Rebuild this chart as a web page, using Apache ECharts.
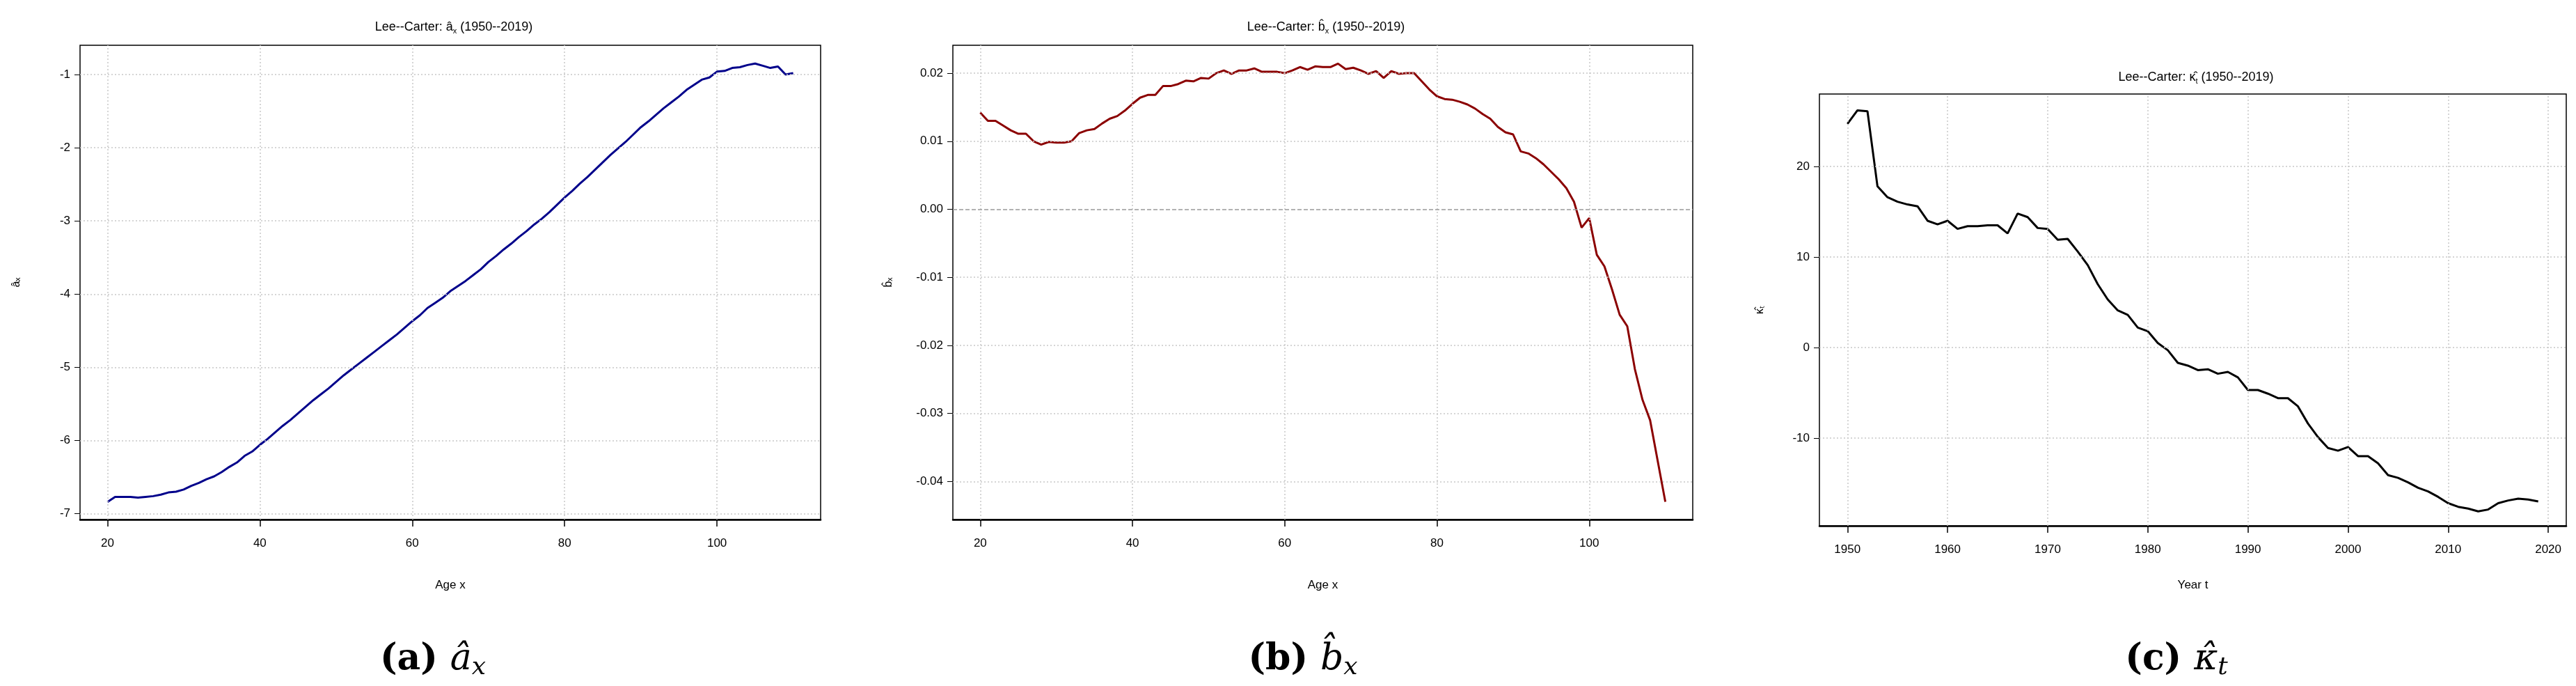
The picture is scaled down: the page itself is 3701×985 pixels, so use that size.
<!DOCTYPE html>
<html>
<head>
<meta charset="utf-8">
<script src="https://cdn.jsdelivr.net/npm/echarts@6/dist/echarts.min.js"></script>
<style>html,body{margin:0;background:#fff}#c{width:3701px;height:985px}</style>
</head>
<body>
<div id="c"></div>
<script>
// Lee-Carter estimates
const ages = [];
for (let a = 20; a <= 110; a++) ages.push(a);
const years = [];
for (let y = 1950; y <= 2019; y++) years.push(y);

const ax = [-6.84,-6.77,-6.77,-6.77,-6.78,-6.77,-6.76,-6.74,-6.71,-6.70,
  -6.67,-6.62,-6.58,-6.53,-6.49,-6.43,-6.36,-6.30,-6.21,-6.15,
  -6.06,-5.98,-5.89,-5.80,-5.72,-5.63,-5.54,-5.45,-5.37,-5.29,
  -5.20,-5.11,-5.03,-4.95,-4.87,-4.79,-4.71,-4.63,-4.55,-4.46,
  -4.37,-4.29,-4.19,-4.12,-4.05,-3.96,-3.89,-3.82,-3.74,-3.66,
  -3.56,-3.48,-3.39,-3.31,-3.22,-3.14,-3.05,-2.97,-2.88,-2.78,
  -2.68,-2.59,-2.49,-2.40,-2.30,-2.20,-2.10,-2.01,-1.92,-1.82,
  -1.72,-1.64,-1.55,-1.46,-1.38,-1.30,-1.21,-1.14,-1.07,-1.04,
  -0.96,-0.95,-0.91,-0.90,-0.87,-0.85,-0.88,-0.91,-0.89,-1.00,-0.98];

const bx = [0.0142,0.0130,0.0130,0.0123,0.0116,0.0111,0.0111,0.0100,0.0095,0.0099,
  0.0098,0.0098,0.0100,0.0112,0.0116,0.0118,0.0126,0.0133,0.0137,0.0145,
  0.0155,0.0164,0.0168,0.0168,0.0181,0.0181,0.0184,0.0189,0.0188,0.0193,
  0.0192,0.0200,0.0204,0.0199,0.0204,0.0204,0.0207,0.0202,0.0202,0.0202,
  0.0200,0.0204,0.0209,0.0205,0.0210,0.0209,0.0209,0.0214,0.0206,0.0208,
  0.0204,0.0199,0.0203,0.0193,0.0203,0.0199,0.0200,0.0200,
  0.0188,0.0176,0.0166,0.0162,0.0161,0.0158,0.0154,0.0148,0.0140,0.0133,
  0.0121,0.0113,0.0110,0.0085,0.0082,0.0075,0.0066,0.0055,0.0044,0.0031,
  0.0011,-0.0027,-0.0013,-0.0067,-0.0084,-0.0118,-0.0155,-0.0172,-0.0235,-0.0280,
  -0.0310,-0.0370,-0.0430];

const kt = [24.7,26.2,26.1,17.8,16.6,16.1,15.8,15.6,14.0,13.6,
  14.0,13.1,13.4,13.4,13.5,13.5,12.6,14.8,14.4,13.2,
  13.1,11.9,12.0,10.6,9.1,7.0,5.3,4.1,3.6,2.2,
  1.8,0.5,-0.3,-1.7,-2.0,-2.5,-2.4,-2.9,-2.7,-3.3,
  -4.7,-4.7,-5.1,-5.6,-5.6,-6.5,-8.4,-9.9,-11.1,-11.4,
  -11.0,-12.0,-12.0,-12.8,-14.1,-14.4,-14.9,-15.5,-15.9,-16.5,
  -17.2,-17.6,-17.8,-18.1,-17.9,-17.2,-16.9,-16.7,-16.8,-17.0];

const ageTicks = [20, 40, 60, 80, 100];
const yearTicks = [1950, 1960, 1970, 1980, 1990, 2000, 2010, 2020];
const aTicks = [-7, -6, -5, -4, -3, -2, -1];
const bTicks = [-0.04, -0.03, -0.02, -0.01, 0, 0.01, 0.02];
const kTicks = [-10, 0, 10, 20];

const FONT = "Liberation Sans";
const grids = [
  { left: 115, width: 1064, top: 65, height: 681 },
  { left: 1369, width: 1063, top: 65, height: 681 },
  { left: 2614, width: 1073, top: 135, height: 620 },
];

function xAxis(i, min, max, ticks, name, gap) {
  return {
    type: "value", gridIndex: i, min, max, name, nameLocation: "middle", nameGap: gap,
    nameTextStyle: { fontFamily: FONT, fontSize: 17, color: "#000" },
    axisLine: { show: true, onZero: false, lineStyle: { color: "#000", width: 2.5 } },
    axisTick: { show: true, length: 10, customValues: ticks, lineStyle: { color: "#000", width: 1.5 } },
    axisLabel: { customValues: ticks, margin: 26, fontFamily: FONT, fontSize: 17, color: "#000", formatter: (v) => String(v) },
    splitLine: { show: false },
  };
}
function yAxis(i, min, max, ticks, name, gap, fmt) {
  return {
    type: "value", gridIndex: i, min, max, name, nameLocation: "middle", nameGap: gap,
    nameRotate: 90,
    nameTextStyle: { fontFamily: FONT, fontSize: 16, color: "#000" },
    axisLine: { show: false },
    axisTick: { show: true, length: 8, customValues: ticks, lineStyle: { color: "#000" } },
    axisLabel: { customValues: ticks, margin: 14, fontFamily: FONT, fontSize: 17, color: "#000", formatter: fmt },
    splitLine: { show: false },
  };
}
function gridLines(xt, yt, extra) {
  const data = xt.map((v) => ({ xAxis: v })).concat(yt.map((v) => ({ yAxis: v })));
  return {
    silent: true, symbol: "none", animation: false, label: { show: false },
    lineStyle: { color: "#c8c8c8", type: [2, 3], width: 1.5 },
    data: data.concat(extra || []),
  };
}
function line(i, xs, ys, color, mk) {
  return {
    type: "line", xAxisIndex: i, yAxisIndex: i, showSymbol: false, animation: false,
    data: xs.map((x, k) => [x, ys[k]]),
    lineStyle: { color, width: 3 }, markLine: mk, z: 3,
  };
}

const chart = echarts.init(document.getElementById("c"));
const titleRich = {
  t: { fontFamily: FONT, fontWeight: "normal", fontSize: 18, color: "#000" },
  s: { fontFamily: FONT, fontWeight: "normal", fontSize: 11, color: "#000", padding: [10, 0, 0, 0] },
};
const capRich = {
  b: { fontFamily: "DejaVu Serif", fontWeight: "bold", fontSize: 52, color: "#000" },
  i: { fontFamily: "DejaVu Serif", fontWeight: "normal", fontStyle: "italic", fontSize: 52, color: "#000", padding: [0, 0, 0, 18] },
  s: { fontFamily: "DejaVu Serif", fontWeight: "normal", fontStyle: "italic", fontSize: 36, color: "#000", padding: [24, 0, 0, 0] },
};
const zeroLine = { yAxis: 0, lineStyle: { color: "#999", type: "dashed", width: 1.5 } };
const titleStyle = { fontWeight: "normal", rich: titleRich };
const capStyle = { fontWeight: "normal", rich: capRich };

chart.setOption({
  backgroundColor: "#fff",
  title: [
    { text: "{t|Lee--Carter: â}{s|x}{t| (1950--2019)}", left: 647, top: 24, textAlign: "center", textStyle: titleStyle },
    { text: "{t|Lee--Carter: b\u0302}{s|x}{t| (1950--2019)}", left: 1900, top: 24, textAlign: "center", textStyle: titleStyle },
    { text: "{t|Lee--Carter: \u03BA\u0302}{s|t}{t| (1950--2019)}", left: 3150, top: 96, textAlign: "center", textStyle: titleStyle },
    { text: "{b|(a)}{i|â}{s|x}", left: 617, top: 912, textAlign: "center", textStyle: capStyle },
    { text: "{b|(b)}{i|b\u0302}{s|x}", left: 1867, top: 912, textAlign: "center", textStyle: capStyle },
    { text: "{b|(c)}{i|\u03BA\u0302}{s|t}", left: 3122, top: 912, textAlign: "center", textStyle: capStyle },
  ],
  grid: grids.map((g) => Object.assign({ show: true, borderColor: "#000", borderWidth: 1.5, backgroundColor: "transparent" }, g)),
  xAxis: [
    xAxis(0, 16.4, 113.6, ageTicks, "Age x", 86),
    xAxis(1, 16.4, 113.6, ageTicks, "Age x", 86),
    xAxis(2, 1947.2, 2021.8, yearTicks, "Year t", 77),
  ],
  yAxis: [
    yAxis(0, -7.08, -0.6, aTicks, "âₓ", 83, (v) => String(v)),
    yAxis(1, -0.0456, 0.0241, bTicks, "b\u0302ₓ", 84, (v) => v.toFixed(2)),
    yAxis(2, -19.7, 28.0, kTicks, "\u03BA\u0302ₜ", 77, (v) => String(v)),
  ],
  series: [
    line(0, ages, ax, "#00008B", gridLines(ageTicks, aTicks)),
    line(1, ages, bx, "#8B0000", gridLines(ageTicks, bTicks.filter((v) => v !== 0), [zeroLine])),
    line(2, years, kt, "#000", gridLines(yearTicks, kTicks)),
  ],
});
</script>
</body>
</html>
